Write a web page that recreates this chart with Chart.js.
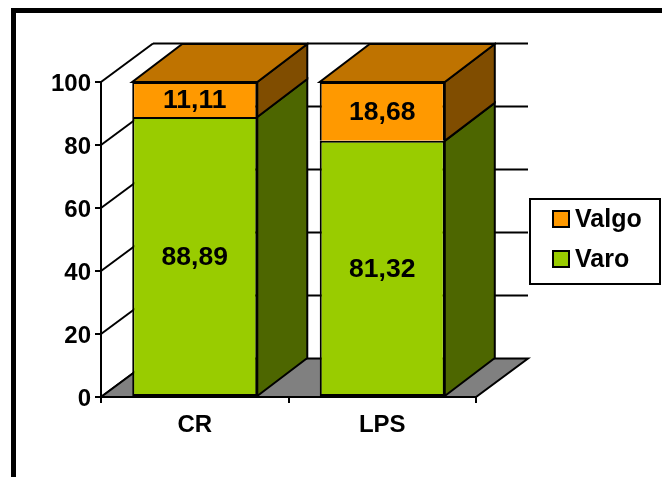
<!DOCTYPE html>
<html lang="pt-br">

<head>
  <meta charset="UTF-8">
  <title>Varo / Valgo</title>
  <script src="https://cdn.jsdelivr.net/npm/chart.js"></script>
  <style>
    html, body { margin: 0; background: #fff; }
    #quadro { position: absolute; left: 11px; top: 8px; right: 0; bottom: 0; border-top: 5px solid #000; border-left: 5px solid #000; }
    #myChart { position: absolute; left: 0; top: 0; }
  </style>
</head>

<body>
  <div id="quadro"></div>
  <canvas id="myChart" width="662" height="477"></canvas>

  <script>
    const categorias = ['CR', 'LPS'];
    const varo = [88.89, 81.32];
    const valgo = [11.11, 18.68];

    const familia = '"Liberation Sans", Arial, sans-serif';

    // profundidade do efeito 3D
    const paredeDx = 52, paredeDy = 38.5;
    const barraDx = 50, barraDy = 38;

    function poligono(ctx, pontos, cor) {
      ctx.beginPath();
      pontos.forEach(function (p, i) { i ? ctx.lineTo(p[0], p[1]) : ctx.moveTo(p[0], p[1]); });
      ctx.closePath();
      ctx.fillStyle = cor;
      ctx.fill();
      ctx.stroke();
    }

    function linha(ctx, x1, y1, x2, y2) {
      ctx.beginPath();
      ctx.moveTo(x1, y1);
      ctx.lineTo(x2, y2);
      ctx.stroke();
    }

    // chão e paredes atrás das barras
    const fundo3d = {
      id: 'fundo3d',
      beforeDraw(chart) {
        // desce um pouco os números do eixo y
        chart.scales.y.getLabelItems().forEach(function (item) {
          if (!item.options.descido) {
            item.options.translation[1] += 2;
            item.options.descido = true;
          }
        });
      },
      beforeDatasetsDraw(chart) {
        const ctx = chart.ctx, area = chart.chartArea, y = chart.scales.y;
        ctx.save();
        ctx.strokeStyle = '#000';
        ctx.lineWidth = 2;
        y.ticks.forEach(function (t) {
          const py = y.getPixelForValue(t.value);
          linha(ctx, area.left, py, area.left + paredeDx, py - paredeDy);
          if (t.value > 0) linha(ctx, area.left + paredeDx, py - paredeDy, area.right + paredeDx, py - paredeDy);
        });
        poligono(ctx, [
          [area.left, area.bottom], [area.right, area.bottom],
          [area.right + paredeDx, area.bottom - paredeDy], [area.left + paredeDx, area.bottom - paredeDy]
        ], '#808080');
        ctx.restore();
      }
    };

    // faces lateral e superior, textos das barras e legenda
    const frente3d = {
      id: 'frente3d',
      afterDatasetsDraw(chart) {
        const ctx = chart.ctx;
        ctx.save();
        ctx.strokeStyle = '#000';
        ctx.lineWidth = 2;
        ctx.lineJoin = 'miter';
        chart.data.datasets.forEach(function (ds, d) {
          chart.getDatasetMeta(d).data.forEach(function (bar) {
            const dir = bar.x + bar.width / 2, esq = bar.x - bar.width / 2;
            poligono(ctx, [
              [dir, bar.base], [dir + barraDx, bar.base - barraDy],
              [dir + barraDx, bar.y - barraDy], [dir, bar.y]
            ], ds.corLateral);
            if (d === chart.data.datasets.length - 1) {
              poligono(ctx, [
                [esq, bar.y], [dir, bar.y],
                [dir + barraDx, bar.y - barraDy], [esq + barraDx, bar.y - barraDy]
              ], ds.corTopo);
            }
          });
        });

        ctx.font = 'bold 26.5px ' + familia;
        ctx.fillStyle = '#000';
        ctx.textAlign = 'center';
        ctx.textBaseline = 'middle';
        chart.data.datasets.forEach(function (ds, d) {
          chart.getDatasetMeta(d).data.forEach(function (bar, i) {
            ctx.fillText(ds.data[i].toFixed(2).replace('.', ','), bar.x, (bar.y + bar.base) / 2 + 1);
          });
        });

        // legenda
        ctx.fillStyle = '#fff';
        ctx.fillRect(530, 199, 130, 85);
        ctx.strokeRect(530, 199, 130, 85);
        ctx.font = 'bold 25px ' + familia;
        ctx.textAlign = 'left';
        [1, 0].forEach(function (d, i) {
          const ds = chart.data.datasets[d];
          const topo = 211 + i * 40;
          ctx.fillStyle = ds.backgroundColor;
          ctx.fillRect(553, topo, 16, 16);
          ctx.strokeRect(553, topo, 16, 16);
          ctx.fillStyle = '#000';
          ctx.fillText(ds.label, 575, topo + 9);
        });
        ctx.restore();
      }
    };

    new Chart(document.getElementById('myChart'), {
      type: 'bar',
      data: {
        labels: categorias,
        datasets: [
          { label: 'Varo', data: varo, backgroundColor: '#99CC00', corLateral: '#4D6600', borderSkipped: false },
          { label: 'Valgo', data: valgo, backgroundColor: '#FF9900', corLateral: '#804D00', corTopo: '#BF7300', borderSkipped: 'bottom' }
        ]
      },
      options: {
        responsive: false,
        animation: false,
        layout: { padding: { left: 0, top: 82, right: 186, bottom: 0 } },
        datasets: {
          bar: { categoryPercentage: 1, barPercentage: 0.667, borderColor: '#000', borderWidth: 2 }
        },
        scales: {
          x: {
            stacked: true,
            afterFit: function (s) { s.height = 80; },
            grid: { drawOnChartArea: false, color: '#000', lineWidth: 2, tickLength: 6 },
            border: { color: '#000', width: 2 },
            ticks: {
              color: '#000',
              padding: 8,
              font: { family: familia, size: 24, weight: 'bold' }
            }
          },
          y: {
            stacked: true,
            min: 0,
            max: 100,
            afterFit: function (s) { s.width = 101; },
            grid: { drawOnChartArea: false, color: '#000', lineWidth: 2, tickLength: 6 },
            border: { color: '#000', width: 2 },
            ticks: {
              stepSize: 20,
              color: '#000',
              padding: 4,
              font: { family: familia, size: 24, weight: 'bold' }
            }
          }
        },
        plugins: {
          legend: { display: false },
          tooltip: { enabled: false }
        }
      },
      plugins: [fundo3d, frente3d]
    });
  </script>
</body>

</html>
